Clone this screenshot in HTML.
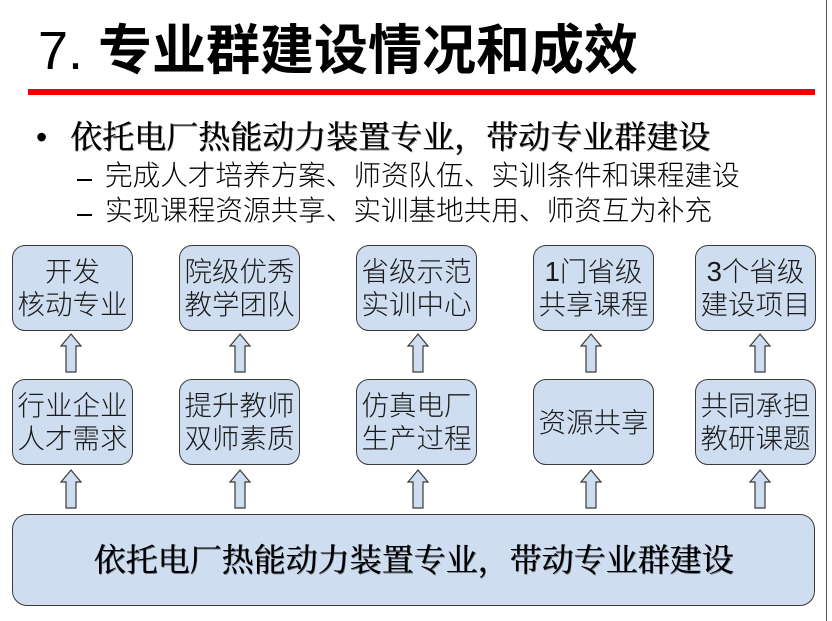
<!DOCTYPE html>
<html>
<head>
<meta charset="utf-8">
<style>
  html,body{margin:0;padding:0;background:#fff;}
  body{width:832px;height:621px;position:relative;overflow:hidden;}
  .t{position:absolute;white-space:nowrap;}
  .title{left:38px;top:24px;font-size:54px;line-height:54px;font-weight:bold;color:#000;
    font-family:"Liberation Sans","Noto Sans CJK SC",sans-serif;}
  .title .n{font-weight:normal;}
  .red{position:absolute;left:28px;top:89px;width:787px;height:6px;background:#f00000;}
  .b1{left:70px;top:121px;font-size:32px;line-height:32px;color:#000;
    font-family:"Liberation Serif","Noto Serif CJK SC",serif;font-weight:normal;
    text-shadow:1px 1px 0 rgba(0,0,0,0.45), 0.5px 0 0 #000;}
  .dot{left:36px;top:121px;font-size:32px;line-height:32px;font-family:"Liberation Sans",sans-serif;}
  .sub{left:105px;font-size:27.6px;line-height:28px;color:#000;
    font-family:"Liberation Sans","Noto Sans CJK SC",sans-serif;font-weight:300;}
  .dash{position:absolute;left:77px;width:15px;height:2px;background:#000;}
  .box{position:absolute;width:119px;height:84px;background:#cfddf0;border:1.5px solid #3a3a3a;
    border-radius:13px;display:flex;align-items:center;justify-content:center;text-align:center;
    font-family:"Liberation Sans","Noto Sans CJK SC",sans-serif;font-size:27.5px;line-height:33px;color:#1a1a1a;font-weight:300;}
  .big{position:absolute;left:12px;top:514px;width:801px;height:90px;background:#cfddf0;border:1.5px solid #3a3a3a;
    border-radius:15px;display:flex;align-items:center;justify-content:center;
    font-family:"Liberation Serif","Noto Serif CJK SC",serif;font-size:32px;line-height:32px;color:#000;font-weight:normal;
    text-shadow:1px 1px 0 rgba(0,0,0,0.45), 0.5px 0 0 #000;}
  .edge{position:absolute;left:826px;top:0;width:1px;height:621px;background:#555;}
</style>
</head>
<body>
<div class="t title"><span class="n">7.</span> 专业群建设情况和成效</div>
<div class="red"></div>

<div class="t dot">•</div>
<div class="t b1">依托电厂热能动力装置专业，带动专业群建设</div>
<div class="dash" style="top:179px;"></div>
<div class="t sub" style="top:162px;">完成人才培养方案、师资队伍、实训条件和课程建设</div>
<div class="dash" style="top:214px;"></div>
<div class="t sub" style="top:197px;">实现课程资源共享、实训基地共用、师资互为补充</div>

<!-- top row -->
<div class="box" style="left:12px;top:245px;">开发<br>核动专业</div>
<div class="box" style="left:179px;top:245px;">院级优秀<br>教学团队</div>
<div class="box" style="left:356px;top:245px;">省级示范<br>实训中心</div>
<div class="box" style="left:533px;top:245px;">1门省级<br>共享课程</div>
<div class="box" style="left:695px;top:245px;">3个省级<br>建设项目</div>

<!-- second row -->
<div class="box" style="left:12px;top:379px;">行业企业<br>人才需求</div>
<div class="box" style="left:179px;top:379px;">提升教师<br>双师素质</div>
<div class="box" style="left:356px;top:379px;">仿真电厂<br>生产过程</div>
<div class="box" style="left:533px;top:379px;">资源共享</div>
<div class="box" style="left:695px;top:379px;">共同承担<br>教研课题</div>

<div class="big">依托电厂热能动力装置专业，带动专业群建设</div>

<svg width="832" height="621" style="position:absolute;left:0;top:0;" xmlns="http://www.w3.org/2000/svg">
  <g fill="#cfddf0" stroke="#3a3a3a" stroke-width="1.2" stroke-linejoin="miter">
    <path d="M71,334 L81,346 L76,346 L76,372 L66,372 L66,346 L61,346 Z"/>
    <path d="M240,334 L250,346 L245,346 L245,372 L235,372 L235,346 L230,346 Z"/>
    <path d="M418,334 L428,346 L423,346 L423,372 L413,372 L413,346 L408,346 Z"/>
    <path d="M591,334 L601,346 L596,346 L596,372 L586,372 L586,346 L581,346 Z"/>
    <path d="M760,334 L770,346 L765,346 L765,372 L755,372 L755,346 L750,346 Z"/>
    <path d="M71,470 L81,482 L76,482 L76,508 L66,508 L66,482 L61,482 Z"/>
    <path d="M240,470 L250,482 L245,482 L245,508 L235,508 L235,482 L230,482 Z"/>
    <path d="M418,470 L428,482 L423,482 L423,508 L413,508 L413,482 L408,482 Z"/>
    <path d="M591,470 L601,482 L596,482 L596,508 L586,508 L586,482 L581,482 Z"/>
    <path d="M760,470 L770,482 L765,482 L765,508 L755,508 L755,482 L750,482 Z"/>
  </g>
</svg>

<div class="edge"></div>
</body>
</html>
